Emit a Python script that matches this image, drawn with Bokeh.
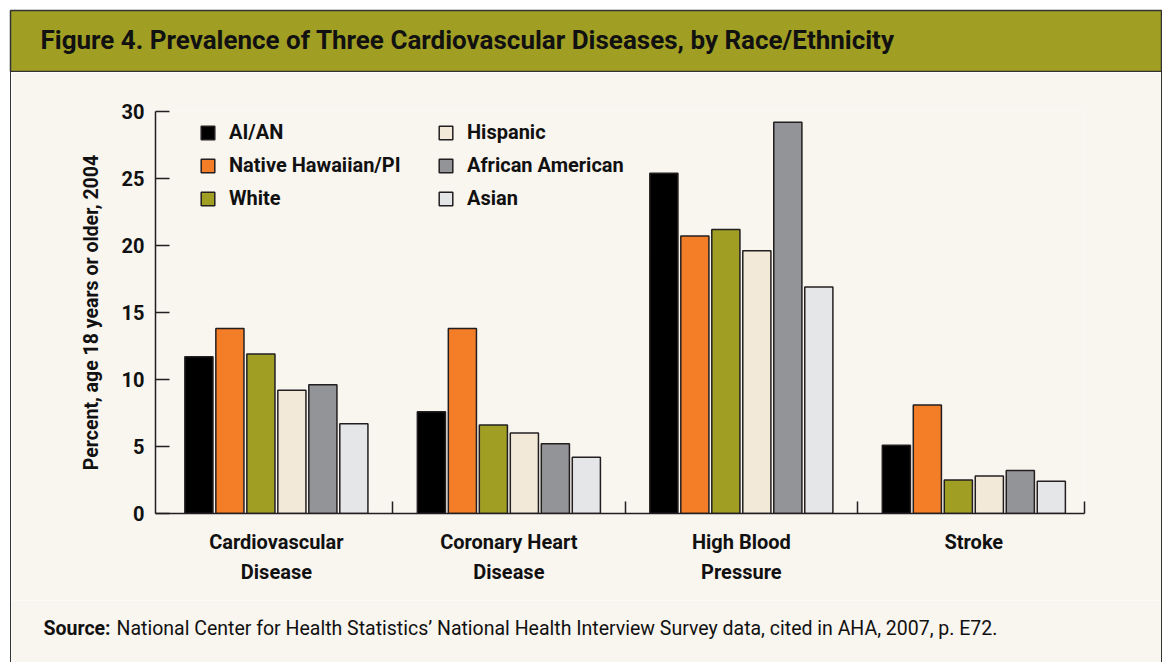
from bokeh.plotting import figure
from bokeh.models import (ColumnDataSource, Range1d, FixedTicker, Legend, LegendItem, Label, Spacer)
from bokeh.transform import dodge
from bokeh.layouts import column, row
from bokeh.embed import file_html
from bokeh.resources import INLINE

# ---------------- data ----------------
title_text = "Figure 4. Prevalence of Three Cardiovascular Diseases, by Race/Ethnicity"
y_label = "Percent, age 18 years or older, 2004"
source_bold = "Source:"
source_rest = ("National Center for Health Statistics\u2019 National Health Interview Survey data, "
               "cited in AHA, 2007, p. E72.")

groups = ["Cardiovascular\nDisease", "Coronary Heart\nDisease", "High Blood\nPressure", "Stroke"]
races = ["AI/AN", "Native Hawaiian/PI", "White", "Hispanic", "African American", "Asian"]

ai_an = [11.7, 7.6, 25.4, 5.1]
native_hawaiian_pi = [13.8, 13.8, 20.7, 8.1]
white = [11.9, 6.6, 21.2, 2.5]
hispanic = [9.2, 6.0, 19.6, 2.8]
african_american = [9.6, 5.2, 29.2, 3.2]
asian = [6.7, 4.2, 16.9, 2.4]

y_ticks = [0, 5, 10, 15, 20, 25, 30]

# ---------------- style ----------------
FONT = "Roboto"
BG = "#F9F5EF"
OLIVE = "#A09F24"
INK = "#231F20"
EDGE = "#333333"
TXT = "#111111"
colors = ["#000000", "#F47D28", "#A09F24", "#F2E9D9", "#939497", "#E5E6E8"]

PAGE_W = 1162
LEFT = 10          # white margin left of the box
INNER_L = LEFT + 1  # first cream pixel
W = PAGE_W - INNER_L - 1

series = [ai_an, native_hawaiian_pi, white, hispanic, african_american, asian]
centers = [i + 0.5 for i in range(len(groups))]
data = {"x": centers}
for i, s in enumerate(series):
    data[f"v{i}"] = s
src = ColumnDataSource(data)


def no_align(fig):
    if "frame_align" in fig.properties():
        fig.frame_align = False


def edge(h):
    return Spacer(width=1, height=h, styles={"background-color": EDGE})


# ---------------- title bar ----------------
t = figure(width=PAGE_W, height=72, x_range=Range1d(0, 1), y_range=Range1d(0, 1),
           x_axis_type=None, y_axis_type=None, output_backend="svg", toolbar_location=None,
           min_border_left=LEFT, min_border_top=10, min_border_right=1, min_border_bottom=0,
           background_fill_color=OLIVE, border_fill_color="white",
           outline_line_color=EDGE, outline_line_width=1.5)
no_align(t)
t.add_layout(Label(x=30, y=33, x_units="screen", y_units="screen", text=title_text,
                   text_font=FONT, text_font_style="bold", text_font_size="26px",
                   text_baseline="middle", text_color=TXT))

# ---------------- main chart ----------------
x_start, x_end = -0.02, 3.976
MAIN_H = 528
p = figure(width=W, height=MAIN_H, x_range=Range1d(x_start, x_end), y_range=Range1d(0, 30),
           output_backend="svg", toolbar_location=None,
           min_border_left=155 - INNER_L, min_border_right=INNER_L + W - 1084,
           min_border_top=39, min_border_bottom=MAIN_H - 441,
           background_fill_color=BG, border_fill_color=BG, outline_line_color=None)
no_align(p)
p.grid.visible = False

renderers = []
step, bw = 0.1333, 0.121
for i, race in enumerate(races):
    r = p.vbar(x=dodge("x", (i - 2.5) * step, range=p.x_range), top=f"v{i}", width=bw,
               bottom=0, source=src, fill_color=colors[i], line_color=INK, line_width=1.5)
    renderers.append(r)

# y axis
ya = p.yaxis[0]
ya.ticker = FixedTicker(ticks=y_ticks, minor_ticks=[])
ya.major_tick_in = 14
ya.major_tick_out = 0
ya.major_tick_line_color = INK
ya.major_tick_line_width = 1.5
ya.minor_tick_line_color = None
ya.axis_line_color = INK
ya.axis_line_width = 1.5
ya.major_label_standoff = 11
ya.major_label_text_font = FONT
ya.major_label_text_font_style = "bold"
ya.major_label_text_font_size = "20px"
ya.major_label_text_color = TXT
ya.axis_label = y_label
ya.axis_label_text_font = FONT
ya.axis_label_text_font_style = "bold"
ya.axis_label_text_font_size = "19.5px"
ya.axis_label_text_color = TXT
ya.axis_label_standoff = 16

# x axis: labels at group centres, short ticks at group boundaries
xa = p.xaxis[0]
xa.ticker = FixedTicker(ticks=centers, minor_ticks=[1, 2, 3, x_end])
xa.major_label_overrides = {c: g for c, g in zip(centers, groups)}
xa.major_tick_line_color = None
xa.minor_tick_in = 12
xa.minor_tick_out = 0
xa.minor_tick_line_color = INK
xa.minor_tick_line_width = 1.5
xa.axis_line_color = INK
xa.axis_line_width = 1.5
xa.major_label_standoff = 10
xa.major_label_text_font = FONT
xa.major_label_text_font_style = "bold"
xa.major_label_text_font_size = "20px"
xa.major_label_text_color = TXT
xa.major_label_text_line_height = 1.28

# legends (two columns)
items = [LegendItem(label=race, renderers=[r]) for race, r in zip(races, renderers)]
for cols, loc in ((items[:3], (44, 303)), (items[3:], (282, 303))):
    leg = Legend(items=cols, location=loc, orientation="vertical",
                 background_fill_alpha=0, border_line_color=None, padding=0, margin=0,
                 spacing=9, glyph_width=17, glyph_height=17, label_standoff=13,
                 label_height=24, label_text_font=FONT, label_text_font_style="bold",
                 label_text_font_size="20px", label_text_color=TXT)
    p.add_layout(leg)

# ---------------- source note ----------------
SRC_H = 62
s = figure(width=W, height=SRC_H, x_range=Range1d(0, 1), y_range=Range1d(0, 1),
           x_axis_type=None, y_axis_type=None, output_backend="svg", toolbar_location=None,
           min_border=0, background_fill_color=BG, border_fill_color=BG, outline_line_color=None)
no_align(s)
s.add_layout(Label(x=32, y=34, x_units="screen", y_units="screen", text=source_bold,
                   text_font=FONT, text_font_style="bold", text_font_size="19.5px",
                   text_baseline="middle", text_color=TXT))
s.add_layout(Label(x=105, y=34, x_units="screen", y_units="screen", text=source_rest,
                   text_font=FONT, text_font_size="19.5px",
                   text_baseline="middle", text_color=TXT))

layout = column(t,
                row(Spacer(width=LEFT, height=MAIN_H), edge(MAIN_H), p, edge(MAIN_H), spacing=0),
                row(Spacer(width=LEFT, height=SRC_H), edge(SRC_H), s, edge(SRC_H), spacing=0),
                spacing=0)
open("out.html", "w").write(file_html(layout, INLINE))
